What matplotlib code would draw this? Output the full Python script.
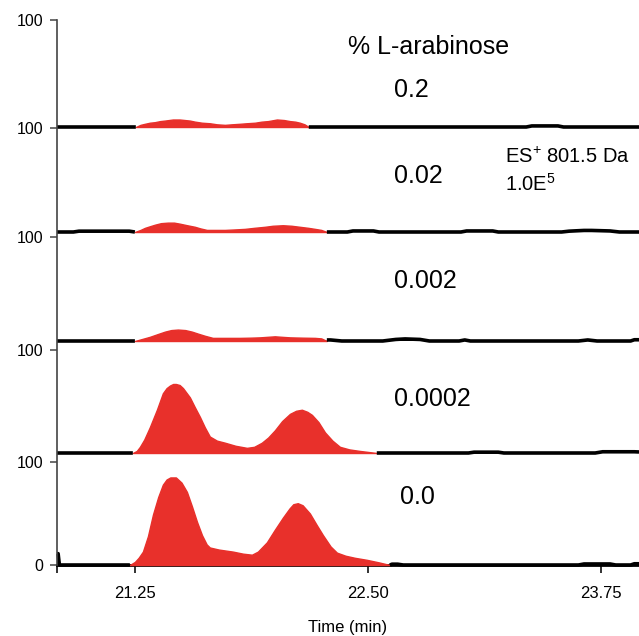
import numpy as np
import matplotlib
matplotlib.use('Agg')
import matplotlib.pyplot as plt
from matplotlib.lines import Line2D

plt.rcParams['font.family'] = ['Liberation Sans', 'DejaVu Sans']
plt.rcParams['mathtext.default'] = 'regular'

nan = np.nan

# % L-arabinose of each trace, top to bottom
labels = ['0.2', '0.02', '0.002', '0.0002', '0.0']

# red peak region of each trace (time in min, intensity in %)
peak_t_1 = [21.255, 21.28, 21.304, 21.33, 21.357, 21.385, 21.411, 21.454, 21.49,
            21.518, 21.545, 21.572, 21.61, 21.652, 21.69, 21.733, 21.77, 21.813,
            21.85, 21.894, 21.93, 21.964, 22.012, 22.05, 22.082, 22.11, 22.135,
            22.16, 22.183]
peak_v_1 = [0, 2, 3, 4, 4.5, 5.5, 6, 7, 7, 6.5, 6, 5, 4, 3.5, 2.5, 2, 2.5, 3,
            3.5, 4, 5, 5.5, 7, 6.5, 5.5, 5, 4, 2.5, 0]

peak_t_2 = [21.25, 21.28, 21.304, 21.33, 21.357, 21.39, 21.427, 21.46, 21.491,
            21.53, 21.572, 21.60, 21.636, 21.69, 21.733, 21.79, 21.84, 21.89, 21.947,
            21.99, 22.044, 22.09, 22.135, 22.18, 22.216, 22.25, 22.28]
peak_v_2 = [0, 2, 4, 5.5, 7, 8.5, 9, 9, 8, 6.5, 5, 3.5, 2, 2, 2, 2.5, 3, 4, 5,
            6, 6.5, 6, 5, 4, 3, 2, 0]

peak_t_3 = [21.25, 21.29, 21.33, 21.37, 21.411, 21.445, 21.481, 21.52, 21.556,
            21.59, 21.626, 21.668, 21.74, 21.813, 21.87, 21.92, 21.96, 22.001,
            22.04, 22.082, 22.15, 22.216, 22.25, 22.28]
peak_v_3 = [0, 2, 4, 6.5, 9, 10.5, 11, 10.5, 9, 7, 5, 3, 3, 3, 3.2, 3.5, 4,
            4.5, 4, 3.5, 3.2, 3, 2.5, 0]

peak_t_4 = [21.239, 21.26, 21.277, 21.30, 21.33, 21.368, 21.40, 21.42, 21.438,
            21.455, 21.47, 21.49, 21.508, 21.545, 21.57, 21.599, 21.625, 21.652,
            21.69, 21.733, 21.79, 21.851, 21.89, 21.931, 21.965, 22.001, 22.04,
            22.082, 22.115, 22.146, 22.175, 22.20, 22.235, 22.27, 22.31, 22.35,
            22.40, 22.457, 22.548]
peak_v_4 = [0, 2, 6, 13, 25, 42, 58, 63, 65.5, 67, 67, 66, 63, 54, 45, 35, 25,
            16, 12, 10, 7, 5, 6, 10, 15, 22, 31, 38, 41, 42, 40, 37, 30, 20, 12,
            6, 3.5, 2, 0]

peak_t_5 = [21.223, 21.25, 21.27, 21.293, 21.32, 21.347, 21.375, 21.40, 21.42,
            21.44, 21.47, 21.50, 21.529, 21.556, 21.583, 21.61, 21.635, 21.652,
            21.70, 21.776, 21.83, 21.878, 21.91, 21.958, 22.00, 22.044, 22.08,
            22.10, 22.124, 22.15, 22.189, 22.225, 22.259, 22.30, 22.334, 22.38,
            22.43, 22.495, 22.56, 22.618]
peak_v_5 = [0, 3, 7, 13, 28, 49, 66, 78, 83, 85, 85, 80, 71, 57, 42, 29, 20, 17,
            15, 13, 11, 10, 13, 22, 34, 46, 55, 59, 60, 58, 50, 39, 29, 18, 12, 9,
            7, 5, 2.5, 0]

# black baseline / noise of each trace
bg_t_1 = [20.832, 21.255, 21.7, 22.183, 23.35, 23.38, 23.52, 23.55, 23.955]
bg_v_1 = [0, 0, nan, 0, 0, 1.0, 1.0, 0, 0]

bg_t_2 = [20.832, 20.92, 20.95, 21.22, 21.25, 21.7, 22.28, 22.39, 22.42, 22.53,
          22.56, 23.00, 23.03, 23.17, 23.20, 23.54, 23.58, 23.66, 23.70, 23.80,
          23.85, 23.955]
bg_v_2 = [0, 0, 0.8, 0.8, 0, nan, 0, 0, 1.0, 1.0, 0, 0, 1.0, 1.0, 0, 0, 0.8, 1.5,
          1.5, 1.0, 0, 0]

bg_t_3 = [20.832, 21.25, 21.7, 22.28, 22.30, 22.36, 22.58, 22.65, 22.70, 22.78,
          22.83, 22.99, 23.02, 23.05, 23.63, 23.68, 23.73, 23.91, 23.93, 23.955]
bg_v_3 = [0, 0, nan, 1.0, 1.0, 0, 0, 1.5, 2.0, 1.5, 0, 0, 1.0, 0, 0, 1.0, 0, 0,
          1.2, 1.2]

bg_t_4 = [20.832, 21.239, 21.8, 22.548, 23.04, 23.07, 23.20, 23.23, 23.72, 23.76,
          23.93, 23.955]
bg_v_4 = [0, 0, nan, 0, 0, 0.8, 0.8, 0, 0, 1.2, 1.2, 1.0]

bg_t_5 = [20.832, 20.838, 20.845, 21.223, 21.8, 22.618, 22.63, 22.66, 22.69, 23.63,
          23.66, 23.80, 23.83, 23.91, 23.93, 23.955]
bg_v_5 = [11, 11, 0, 0, nan, 0, 0.8, 0.8, 0, 0, 1.0, 1.0, 0, 0, 1.2, 1.2]

peaks = [(peak_t_1, peak_v_1), (peak_t_2, peak_v_2), (peak_t_3, peak_v_3),
         (peak_t_4, peak_v_4), (peak_t_5, peak_v_5)]
noise = [(bg_t_1, bg_v_1), (bg_t_2, bg_v_2), (bg_t_3, bg_v_3),
         (bg_t_4, bg_v_4), (bg_t_5, bg_v_5)]

xticks = [21.25, 22.50, 23.75]
xticklabels = ['21.25', '22.50', '23.75']

W, H = 639, 636
fig = plt.figure(figsize=(W / 100, H / 100), dpi=100)

# panel extents in pixels (top, bottom)
panels = [(20, 127), (128, 232), (237, 341), (350, 453), (462, 565)]
x0 = 57
red = '#e8302b'

axes = []
for i, (top, bot) in enumerate(panels):
    ax = fig.add_axes([x0 / W, 1 - bot / H, (W - x0) / W, (bot - top) / H])
    pt, pv = peaks[i]
    ax.fill_between(pt, 0, pv, color=red, lw=1.0, clip_on=False, zorder=3)
    bt, bv = noise[i]
    bt = np.array(bt)
    bv = np.array(bv, dtype=float)
    ax.fill_between(bt, 0, bv, color='black', lw=0, clip_on=False, zorder=3)
    ax.plot(bt, bv, color='black', lw=2.6, solid_capstyle='butt',
            clip_on=False, zorder=4)
    ax.set_xlim(20.832, 23.955)
    ax.set_ylim(0, 100)
    for s in ax.spines.values():
        s.set_visible(False)
    ax.set_yticks([100])
    ax.set_yticklabels(['100'])
    ax.tick_params(axis='y', direction='out', length=5, width=1.1,
                   color='#444444', labelsize=11.5, pad=5)
    ax.set_xticks([])
    ax.patch.set_alpha(0)
    axes.append(ax)

ax = axes[-1]
ax.set_yticks([0, 100])
ax.set_yticklabels(['0', '100'])
ax.spines['bottom'].set_visible(True)
ax.spines['bottom'].set_linewidth(2.0)
ax.set_xticks([20.832] + xticks)
ax.set_xticklabels([''] + xticklabels)
ax.tick_params(axis='x', direction='out', length=6, width=1.3, color='#222222',
               labelsize=12, pad=9)
ax.set_xlabel('Time (min)', fontsize=12, labelpad=14)

# continuous left axis line through all panels
fig.add_artist(Line2D([x0 / W, x0 / W], [1 - 20 / H, 1 - 565 / H],
                      transform=fig.transFigure, color='#444444', lw=1.2))

fig.text(348 / W, 1 - 47.5 / H, '% L-arabinose', fontsize=18, ha='left', va='center')
label_pos = [(394, 90), (394, 176), (394, 281), (394, 399), (400, 497)]
for lab, (px, py) in zip(labels, label_pos):
    fig.text(px / W, 1 - py / H, lab, fontsize=18, ha='left', va='center')

fig.text(505 / W, 1 - 157 / H, 'ES$^{+}$ 801.5 Da', fontsize=14.5, ha='left', va='center')
fig.text(505 / W, 1 - 184 / H, '1.0E$^{5}$', fontsize=14.5, ha='left', va='center')

fig.savefig('out.png', dpi=100, facecolor='white')
